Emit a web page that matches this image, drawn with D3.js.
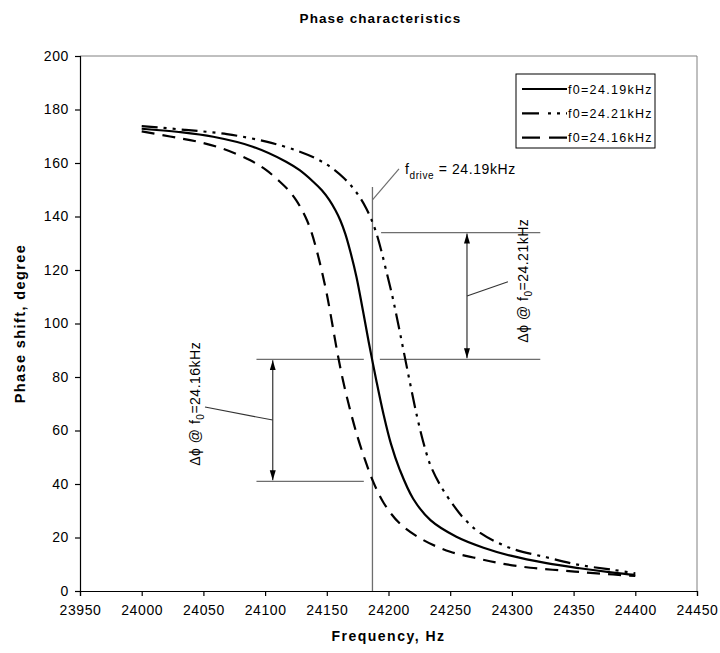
<!DOCTYPE html>
<html>
<head>
<meta charset="utf-8">
<script src="https://cdnjs.cloudflare.com/ajax/libs/d3/7.8.5/d3.min.js"></script>
<style>
  body { margin: 0; background: #fff; }
  svg text { font-family: Arial, "Liberation Sans", sans-serif; fill: #000; }
</style>
</head>
<body>
<svg id="chart" width="720" height="653"></svg>
<script>
// valores
const xTicks = [23950, 24000, 24050, 24100, 24150, 24200, 24250, 24300, 24350, 24400, 24450];
const yTicks = [0, 20, 40, 60, 80, 100, 120, 140, 160, 180, 200];

const seriesNames = ['f0=24.19kHz', 'f0=24.21kHz', 'f0=24.16kHz'];

// f0 = 24.19kHz (continua)
const freq1919 = [24000, 24030, 24058, 24090, 24117, 24128, 24139, 24146, 24152, 24157, 24161, 24165, 24169, 24174, 24179, 24184, 24190, 24196, 24202, 24209, 24220, 24234, 24255, 24277, 24299, 24328, 24355, 24382, 24400];
const phase1919 = [172.8, 171.6, 169.8, 166.1, 160.5, 157.3, 153.0, 149.8, 146.2, 142.3, 138.5, 133.5, 127.0, 117.5, 105.5, 93.0, 79.0, 66.0, 55.0, 45.5, 34.5, 26.5, 20.3, 16.2, 13.2, 10.4, 8.5, 6.9, 6.0];

// f0 = 24.21kHz (raya-punto-punto)
const freq2421 = [24000, 24035, 24069, 24101, 24126, 24142, 24153, 24164, 24171, 24177, 24182, 24186, 24190, 24194, 24198, 24203, 24208, 24213, 24218, 24223, 24228, 24234, 24242, 24253, 24261, 24274, 24299, 24328, 24355, 24382, 24400];
const phase2421 = [173.8, 172.4, 170.8, 168.0, 164.6, 161.5, 158.5, 154.3, 150.8, 147.0, 143.0, 139.0, 134.0, 127.5, 120.0, 110.5, 99.5, 88.0, 76.5, 65.5, 56.0, 47.0, 39.5, 31.8, 27.2, 21.8, 16.0, 12.6, 9.7, 7.9, 6.6];

// f0 = 24.16kHz (discontinua)
const freq2416 = [24000, 24023, 24045, 24066, 24088, 24101, 24112, 24119, 24125, 24130, 24134, 24138, 24142, 24146, 24150, 24154, 24158, 24163, 24169, 24175, 24181, 24187, 24196, 24209, 24228, 24250, 24272, 24290, 24315, 24342, 24369, 24400];
const phase2416 = [171.8, 169.9, 168.0, 165.3, 161.0, 157.3, 153.0, 149.8, 146.2, 142.3, 138.5, 133.5, 127.0, 119.5, 111.0, 101.0, 90.5, 79.0, 67.5, 57.5, 49.0, 41.5, 33.0, 25.3, 19.1, 14.7, 12.2, 10.4, 8.7, 7.6, 6.6, 5.6];

// anotaciones
const fDrive = 24187;
const driveLabel = '= 24.19kHz';
const phaseUpper = 134;
const phaseMid = 86.6;
const phaseLower = 41;

const margin = { top: 56, right: 23, bottom: 62, left: 80 };
const w = 720;
const h = 653;
const width = w - margin.left - margin.right;
const height = h - margin.top - margin.bottom;

const svg = d3.select('#chart');

const x = d3.scaleLinear().domain([23950, 24450]).range([0, width]);
const y = d3.scaleLinear().domain([0, 200]).range([height, 0]);

const g = svg.append('g')
    .attr('transform', 'translate(' + margin.left + ',' + margin.top + ')');

// borde del area del grafico (arriba y derecha)
g.append('path')
    .attr('d', 'M0,0H' + width + 'V' + height)
    .attr('fill', 'none')
    .attr('stroke', '#808080')
    .attr('stroke-width', 1);

// ejes
const axisX = d3.axisBottom(x).tickValues(xTicks).tickFormat(d3.format('d')).tickSizeOuter(0).tickSize(5).tickPadding(9);
const axisY = d3.axisLeft(y).tickValues(yTicks).tickFormat(d3.format('d')).tickSizeOuter(0).tickSize(5).tickPadding(6);

g.append('g')
    .attr('class', 'axis axis-x')
    .attr('transform', 'translate(0,' + height + ')')
    .call(axisX);

g.append('g')
    .attr('class', 'axis axis-y')
    .call(axisY);

g.selectAll('.axis path, .axis line').attr('stroke', '#000').attr('stroke-width', 1.2);
g.selectAll('.axis text')
    .attr('font-size', 14)
    .attr('font-family', 'Arial, "Liberation Sans", sans-serif')
    .style('letter-spacing', '0.6px');

// lineas de las series
const series = [
    { name: seriesNames[0], f: freq1919, p: phase1919, dash: null },
    { name: seriesNames[1], f: freq2421, p: phase2421, dash: '16,6,3,6,3,6' },
    { name: seriesNames[2], f: freq2416, p: phase2416, dash: '13,8' }
];

const line = d3.line()
    .x(d => x(d[0]))
    .y(d => y(d[1]))
    .curve(d3.curveCatmullRom.alpha(0.5));

// linea vertical f_drive (debajo de las curvas)
const annot = g.append('g').attr('class', 'annotations');
const grey = '#6e6e6e';

annot.append('line')
    .attr('x1', x(fDrive)).attr('x2', x(fDrive))
    .attr('y1', y(151)).attr('y2', y(0))
    .attr('stroke', grey).attr('stroke-width', 1.3);

annot.append('line')
    .attr('x1', x(fDrive)).attr('y1', y(146.2))
    .attr('x2', x(24208.5)).attr('y2', y(157.8))
    .attr('stroke', grey).attr('stroke-width', 1.2);

// lineas horizontales de referencia
const hLines = [
    [24194, 24323, phaseUpper],
    [24093, 24180, phaseMid],
    [24193, 24323, phaseMid],
    [24093, 24180, phaseLower]
];
annot.selectAll('.hline')
    .data(hLines)
    .enter()
    .append('line')
    .attr('class', 'hline')
    .attr('x1', d => x(d[0]))
    .attr('x2', d => x(d[1]))
    .attr('y1', d => y(d[2]))
    .attr('y2', d => y(d[2]))
    .attr('stroke', grey)
    .attr('stroke-width', 1.3);

// flechas dobles
svg.append('defs').selectAll('marker')
    .data(['arrow-end', 'arrow-start'])
    .enter()
    .append('marker')
    .attr('id', d => d)
    .attr('viewBox', '0 0 10 10')
    .attr('refX', 10)
    .attr('refY', 5)
    .attr('markerWidth', 10)
    .attr('markerHeight', 10)
    .attr('markerUnits', 'userSpaceOnUse')
    .attr('orient', d => d === 'arrow-end' ? 'auto' : 'auto-start-reverse')
    .append('path')
    .attr('d', 'M0,2L10,5L0,8Z')
    .attr('fill', '#000');

const arrows = [
    [24263.6, phaseUpper, phaseMid],
    [24106.2, phaseMid, phaseLower]
];
annot.selectAll('.arrow')
    .data(arrows)
    .enter()
    .append('line')
    .attr('class', 'arrow')
    .attr('x1', d => x(d[0])).attr('x2', d => x(d[0]))
    .attr('y1', d => y(d[1]) + 1).attr('y2', d => y(d[2]) - 1)
    .attr('stroke', '#333')
    .attr('stroke-width', 1.2)
    .attr('marker-start', 'url(#arrow-start)')
    .attr('marker-end', 'url(#arrow-end)');

// lineas guia hacia los textos
annot.append('line')
    .attr('x1', x(24263.6)).attr('y1', y(110.3))
    .attr('x2', x(24296.8)).attr('y2', y(115.6))
    .attr('stroke', '#333').attr('stroke-width', 1.1);
annot.append('line')
    .attr('x1', x(24106.2)).attr('y1', y(63.9))
    .attr('x2', x(24051.3)).attr('y2', y(68.8))
    .attr('stroke', '#333').attr('stroke-width', 1.1);

// curvas
g.append('g').selectAll('.serie')
    .data(series)
    .enter()
    .append('path')
    .attr('class', 'serie')
    .attr('d', d => line(d.f.map((f, i) => [f, d.p[i]])))
    .attr('fill', 'none')
    .attr('stroke', '#000')
    .attr('stroke-width', 2.2)
    .attr('stroke-dasharray', d => d.dash);

// texto f_drive
const drive = g.append('text')
    .attr('x', x(24213.4))
    .attr('y', y(155.9))
    .attr('font-size', 14)
    .style('letter-spacing', '0.6px');
drive.append('tspan').text('f');
drive.append('tspan').attr('font-size', 10).attr('dy', 5).text('drive');
drive.append('tspan').attr('dy', -5).text(' ' + driveLabel);

// textos rotados
function rotatedLabel(fx, py, f0) {
    const t = g.append('text')
        .attr('transform', 'translate(' + x(fx) + ',' + y(py) + ') rotate(-90)')
        .attr('text-anchor', 'middle')
        .attr('font-size', 14)
        .style('letter-spacing', '0.5px');
    t.append('tspan').text('\u0394\u03d5 @  f');
    t.append('tspan').attr('font-size', 10).attr('dy', 4).text('0');
    t.append('tspan').attr('dy', -4).text('=' + f0);
}
rotatedLabel(24313, 116, '24.21kHz');
rotatedLabel(24047, 70, '24.16kHz');

// leyenda
const legend = g.append('g')
    .attr('transform', 'translate(' + (516 - margin.left) + ',' + (74 - margin.top) + ')');

legend.append('rect')
    .attr('width', 139)
    .attr('height', 74)
    .attr('fill', '#fff')
    .attr('stroke', '#000')
    .attr('stroke-width', 1);

const item = legend.selectAll('.item')
    .data(series)
    .enter()
    .append('g')
    .attr('class', 'item')
    .attr('transform', (d, i) => 'translate(0,' + (15 + i * 24.3) + ')');

item.append('line')
    .attr('x1', 6).attr('x2', 51)
    .attr('stroke', '#000')
    .attr('stroke-width', 2.2)
    .attr('stroke-dasharray', (d, i) => i === 0 ? null : (i === 1 ? '17,9,3,6,3,6' : '18,9'));

item.append('text')
    .attr('x', 52)
    .attr('y', 4.5)
    .attr('font-size', 12.5)
    .style('letter-spacing', '1.3px')
    .text(d => d.name);

// titulos
svg.append('text')
    .attr('x', margin.left + width / 2 - 8)
    .attr('y', 23)
    .attr('text-anchor', 'middle')
    .attr('font-size', 13.5)
    .attr('font-weight', 'bold')
    .style('letter-spacing', '1.1px')
    .text('Phase characteristics');

svg.append('text')
    .attr('x', margin.left + width / 2)
    .attr('y', 641)
    .attr('text-anchor', 'middle')
    .attr('font-size', 14)
    .attr('font-weight', 'bold')
    .style('letter-spacing', '1.5px')
    .text('Frequency, Hz');

svg.append('text')
    .attr('transform', 'translate(25,' + (margin.top + height / 2) + ') rotate(-90)')
    .attr('text-anchor', 'middle')
    .attr('font-size', 14.5)
    .attr('font-weight', 'bold')
    .style('letter-spacing', '1.4px')
    .text('Phase shift, degree');
</script>
</body>
</html>
